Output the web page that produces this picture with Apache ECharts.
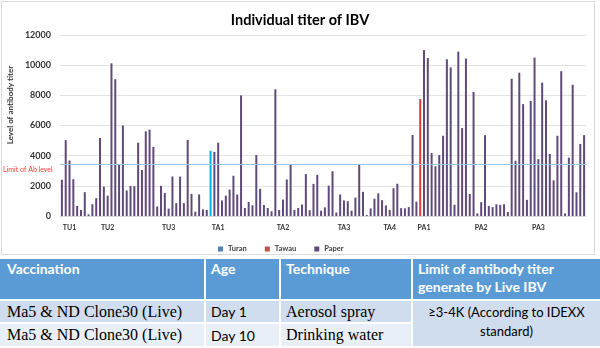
<!DOCTYPE html>
<html><head><meta charset="utf-8">
<script src="https://cdn.jsdelivr.net/npm/echarts@6/dist/echarts.min.js"></script>
<style>
html,body{margin:0;padding:0;background:#fff;width:600px;height:348px;overflow:hidden;}
#chart{position:absolute;left:0;top:0;width:600px;height:258px;}
.c{position:absolute;box-sizing:border-box;font-family:Lato,"Liberation Sans",sans-serif;color:#000;}
.h{background:#5b9bd5;color:#fff;font-weight:bold;font-size:14px;line-height:18px;padding-top:1px;top:259px;height:40px;}
.r1{background:#d0ddef;top:301px;height:21px;display:flex;align-items:center;}
.r2{background:#e9eff7;top:324px;height:22px;display:flex;align-items:center;}
.serif{font-family:"Liberation Serif","DejaVu Serif",serif;font-size:16px;}
.sans{font-size:14px;}
</style>
</head><body>
<div id="chart"></div>
<div class="c h" style="left:0;width:204px;padding-left:7px;">Vaccination</div>
<div class="c h" style="left:206px;width:73px;padding-left:5px;">Age</div>
<div class="c h" style="left:281px;width:130px;padding-left:5px;">Technique</div>
<div class="c h" style="left:413px;width:187px;padding-left:5px;">Limit of antibody titer<br>generate by Live IBV</div>
<div class="c r1 serif" style="left:0;width:204px;padding-left:7px;">Ma5 &amp; ND Clone30 (Live)</div>
<div class="c r1 sans" style="left:206px;width:73px;padding-left:5px;">Day 1</div>
<div class="c r1 serif" style="left:281px;width:130px;padding-left:5px;">Aerosol spray</div>
<div class="c r2 serif" style="left:0;width:204px;padding-left:7px;">Ma5 &amp; ND Clone30 (Live)</div>
<div class="c r2 sans" style="left:206px;width:73px;padding-left:5px;">Day 10</div>
<div class="c r2 serif" style="left:281px;width:130px;padding-left:5px;">Drinking water</div>
<div class="c" style="left:413px;width:187px;top:301px;height:45px;background:#d0ddef;font-size:13px;line-height:19px;text-align:center;padding-top:2px;">≥3-4K (According to IDEXX<br>standard)</div>
<script>
const paperValues = [
 2400,5030,3680,2440,670,400,1580,110,780,1180,
 5170,1950,1350,10120,9070,3390,6000,1690,1990,1980,
 4860,3050,5610,5720,4580,630,2000,1520,490,2620,
 850,2610,850,5050,1470,290,1430,440,400,null,
 4250,4860,1030,1350,1750,2670,1420,8000,530,930,
 710,4040,1800,730,530,310,8400,400,1090,2420,
 3400,400,530,760,2780,380,2130,2730,350,570,
 2010,2970,230,1430,1030,980,350,1220,3400,1600,
 60,500,1150,1500,1050,700,410,1840,2140,520,
 510,590,5370,950,null,11000,10470,4170,3300,4040,
 5320,10390,9850,750,10900,5830,10440,1460,8220,170,
 920,5360,670,590,770,740,780,260,9100,3660,
 9500,7420,1070,7630,10500,3770,8840,7670,4110,2360,
 5320,9600,170,3870,8700,1570,4780,5360
];
const turanBars = [[39, 4330]];   // [category index, value]
const tawauBars = [[94, 7750]];
const groupLabels = ['TU1','TU2','TU3','TA1','TA2','TA3','TA4','PA1','PA2','PA3'];
const groupLabelIndex = [2, 12, 28, 41, 58, 74, 86, 95, 110, 125];
const yTicks = [0, 2000, 4000, 6000, 8000, 10000, 12000];
const limitLevel = 3400;

const categories = paperValues.map((v, i) => {
  const k = groupLabelIndex.indexOf(i);
  return k >= 0 ? groupLabels[k] : '';
});

const chart = echarts.init(document.getElementById('chart'));
chart.setOption({
  animation: false,
  title: {text: 'Individual titer of IBV', left: 'center', top: 8,
    textStyle: {fontFamily: 'Lato', fontSize: 14.5, fontWeight: 'bold', color: '#000'}},
  legend: {left: 213, top: 240, itemWidth: 5, itemHeight: 5, itemGap: 18, icon: 'rect',
    textStyle: {fontFamily: 'Lato', fontSize: 7.5, fontWeight: 'bold', color: '#404040'},
    data: ['Turan', 'Tawau', 'Paper']},
  grid: {left: 60, right: 14, top: 35, bottom: 42, containLabel: false},
  xAxis: {type: 'category', data: categories,
    axisLine: {show: true, lineStyle: {color: '#d9d9d9'}}, axisTick: {show: false},
    axisLabel: {interval: 0, margin: 8, fontFamily: 'Lato', fontSize: 7, fontWeight: 'bold', color: '#333'}},
  yAxis: {type: 'value', min: yTicks[0], max: yTicks[yTicks.length - 1], interval: 2000,
    axisLine: {show: false}, axisTick: {show: false},
    splitLine: {lineStyle: {color: '#e3e3e3'}},
    axisLabel: {margin: 9, fontFamily: 'Lato', fontSize: 9, fontWeight: 'bold', color: '#333',
      formatter: v => String(v)}},
  graphic: [
    {type: 'rect', shape: {x: 1.5, y: 1.5, width: 593, height: 253}, style: {fill: 'none', stroke: '#d9d9d9', lineWidth: 1}, silent: true},
    {type: 'text', x: 10, y: 105, rotation: Math.PI / 2,
      style: {text: 'Level of antibody titer', fontFamily: 'Lato', fontSize: 8, fontWeight: 'bold', fill: '#333', align: 'center', verticalAlign: 'middle'}},
    {type: 'text', x: 3, y: 170,
      style: {text: 'Limit of Ab level', fontFamily: 'Lato', fontSize: 7, fill: '#ff3b3b', align: 'left', verticalAlign: 'middle'}}
  ],
  series: [
    {name: 'Turan', type: 'bar', barWidth: 2, barGap: '-100%', itemStyle: {color: '#4f81bd'},
      data: turanBars.map(d => ({value: d, itemStyle: {color: '#00b0f0'}}))},
    {name: 'Tawau', type: 'bar', barWidth: 2, barGap: '-100%', itemStyle: {color: '#c0504d'},
      data: tawauBars.map(d => ({value: d, itemStyle: {color: '#e8393a'}}))},
    {name: 'Paper', type: 'bar', barWidth: 2, barGap: '-100%', itemStyle: {color: '#604a7b'},
      data: paperValues,
      markLine: {silent: true, symbol: 'none', label: {show: false},
        lineStyle: {color: '#9dc3e6', width: 1, type: 'solid'}, data: [{yAxis: limitLevel}]}}
  ]
});
</script>
</body></html>
